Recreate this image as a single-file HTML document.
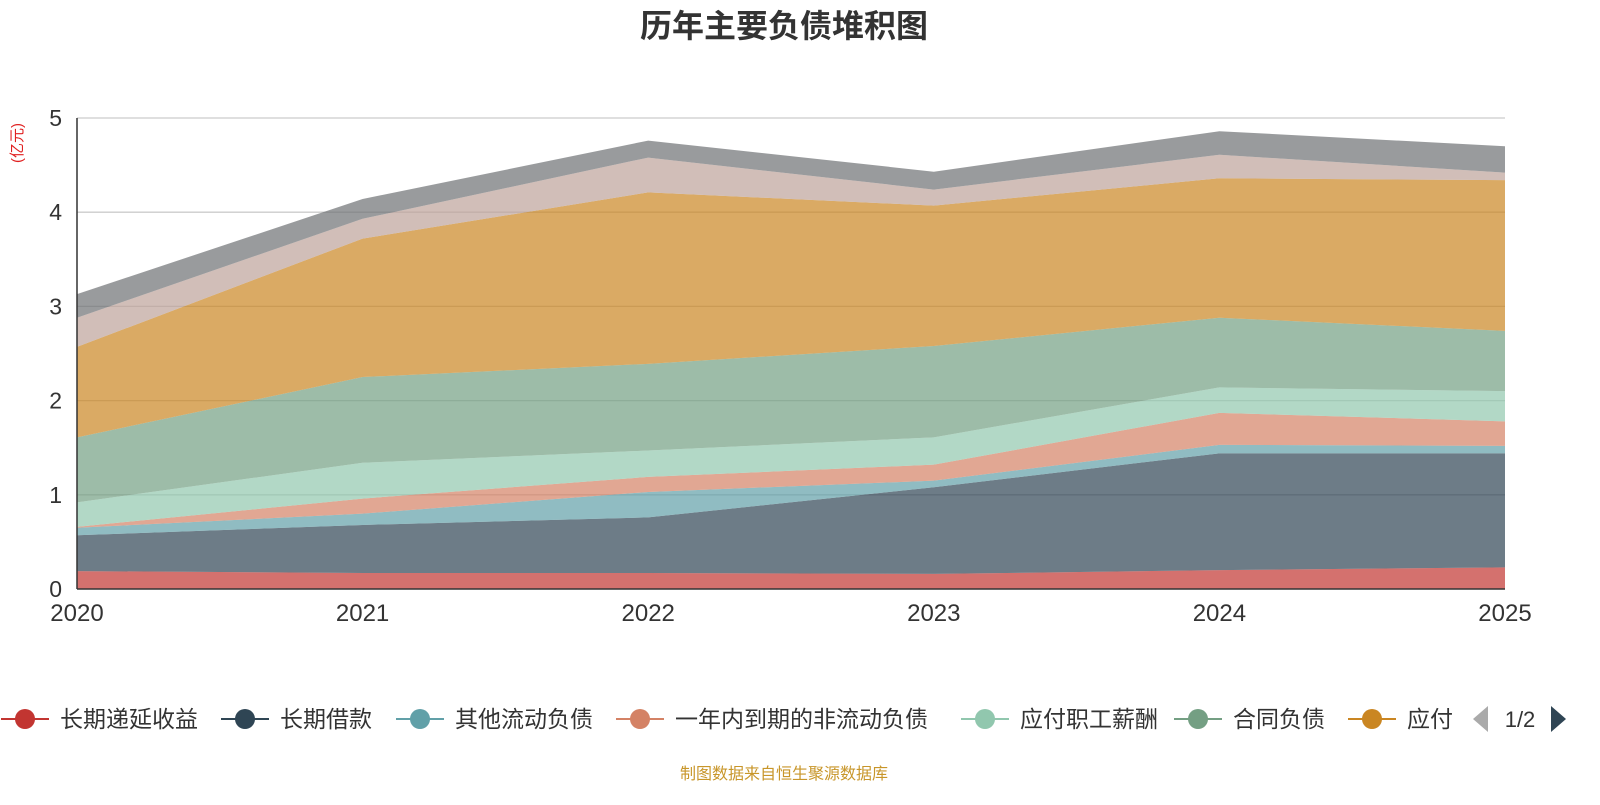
<!DOCTYPE html>
<html><head><meta charset="utf-8">
<style>
body{margin:0;background:#fff;font-family:"Liberation Sans","Noto Sans CJK SC",sans-serif;}
svg text{font-family:"Liberation Sans","Noto Sans CJK SC",sans-serif;}
</style></head>
<body>
<svg id="chart" width="1600" height="800">
<text x="784" y="37" text-anchor="middle" font-size="32" font-weight="bold" fill="#333">历年主要负债堆积图</text>
<text transform="translate(22,143) rotate(-90)" text-anchor="middle" font-size="15" fill="#e02020">(亿元)</text>
<g id="grid"></g><g id="areas"></g><g id="axes"></g><g id="legend"></g>
<text x="784" y="779" text-anchor="middle" font-size="16" fill="#c8962a">制图数据来自恒生聚源数据库</text>
</svg>
<script>
const years=["2020","2021","2022","2023","2024","2025"];
const seriesNames=["长期递延收益","长期借款","其他流动负债","一年内到期的非流动负债","应付职工薪酬","合同负债","应付账款","应付票据","其他应付款"];
const s1=[0.19,0.17,0.17,0.16,0.20,0.23];
const s2=[0.38,0.51,0.59,0.92,1.24,1.21];
const s3=[0.08,0.12,0.27,0.07,0.09,0.08];
const s4=[0.01,0.16,0.16,0.17,0.34,0.26];
const s5=[0.26,0.38,0.28,0.29,0.27,0.32];
const s6=[0.69,0.91,0.92,0.97,0.74,0.64];
const s7=[0.96,1.47,1.82,1.49,1.48,1.60];
const s8=[0.31,0.21,0.37,0.17,0.25,0.08];
const s9=[0.25,0.21,0.18,0.19,0.25,0.28];
const yTicks=[0,1,2,3,4,5];
const series=[s1,s2,s3,s4,s5,s6,s7,s8,s9];
const colors=["#c23531","#2f4554","#61a0a8","#d48265","#91c7ae","#749f83","#ca8622","#bda29a","#6e7074"];
const NS="http://www.w3.org/2000/svg";
const x=i=>77+i*(1505-77)/(years.length-1);
const y=v=>589-v*(589-118)/5;
function mk(t,a,p){const e=document.createElementNS(NS,t);for(const k in a)e.setAttribute(k,a[k]);p.appendChild(e);return e;}
const grid=document.getElementById('grid'),areas=document.getElementById('areas'),axes=document.getElementById('axes'),leg=document.getElementById('legend');
yTicks.forEach(t=>{
 if(t>0){const l=mk('line',{x1:77,x2:1505,y1:y(t),y2:y(t),stroke:'#ccc','stroke-width':1.3},grid);
 
 }
 const tx=mk('text',{x:62,y:y(t)+8,'text-anchor':'end','font-size':23,fill:'#333'},axes);tx.textContent=t;
 
 
});
let base=years.map(()=>0);
series.forEach((s,k)=>{
 const top=base.map((b,i)=>b+s[i]);
 let d='M'+years.map((_,i)=>x(i)+','+y(top[i])).join('L');
 for(let i=years.length-1;i>=0;i--)d+='L'+x(i)+','+y(base[i]);
 const p=mk('path',{d:d+'Z',fill:colors[k],'fill-opacity':0.7,stroke:'none'},areas);
 
 
 base=top;
});
mk('line',{x1:77,x2:77,y1:118,y2:589,stroke:'#333','stroke-width':1.5},axes);
mk('line',{x1:77,x2:1505,y1:589,y2:589,stroke:'#333','stroke-width':1.5},axes);
years.forEach((yr,i)=>{
 const t=mk('text',{x:x(i),y:621,'text-anchor':'middle','font-size':24,fill:'#333'},axes);t.textContent=yr;
 
 
});
const lx=[25,245,420,640,985,1198,1372];
for(let k=0;k<7;k++){
 const g=mk('g',{},leg);
 
 
 mk('line',{x1:lx[k]-24,x2:lx[k]+24,y1:719,y2:719,stroke:colors[k],'stroke-width':2},g);
 mk('circle',{cx:lx[k],cy:719,r:10,fill:colors[k]},g);
 const t=mk('text',{x:lx[k]+35,y:727,'font-size':23,fill:'#333'},g);t.textContent=k==6?'应付':seriesNames[k];
}
const a1=mk('path',{d:'M1488,706 L1488,732 L1473,719 Z',fill:'#aaa'},leg);


const pg=mk('text',{x:1520,y:727,'text-anchor':'middle','font-size':22,fill:'#333'},leg);pg.textContent='1/2';


const a2=mk('path',{d:'M1551,706 L1551,732 L1566,719 Z',fill:'#2f4554'},leg);


</script>
</body></html>
